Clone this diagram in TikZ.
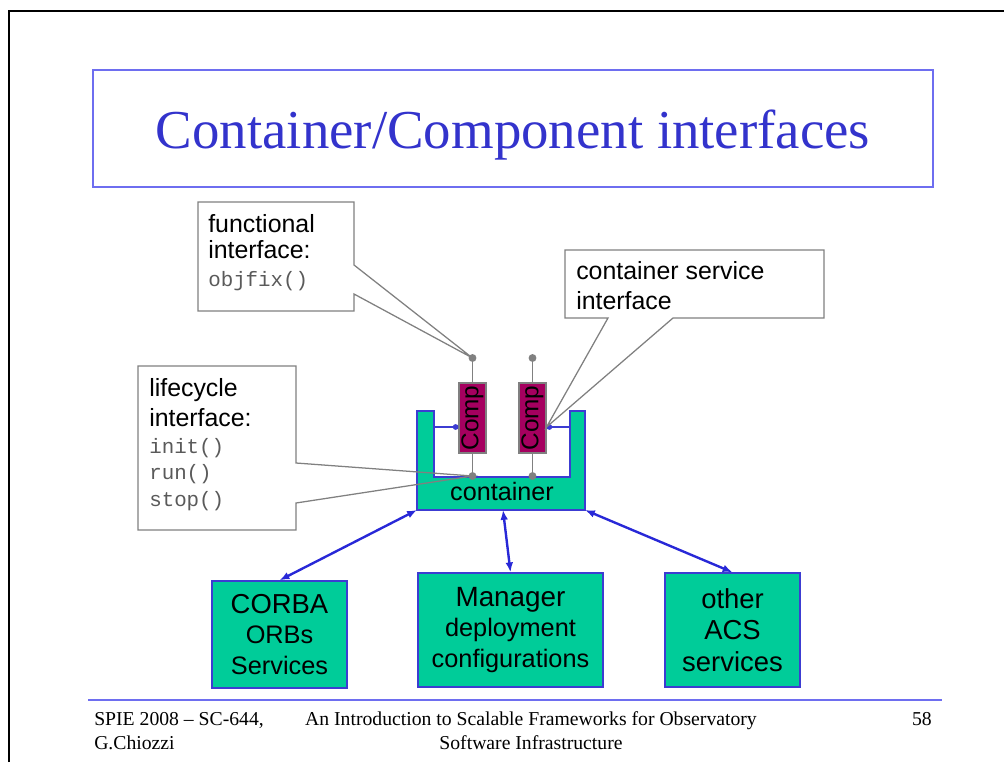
\documentclass[tikz,border=0pt]{standalone}
\usepackage{fontspec}
\setmainfont{Liberation Serif}
\setsansfont{Liberation Sans}
\setmonofont{Liberation Mono}
\usepackage{graphicx}
\usepackage{tikz}
\usetikzlibrary{arrows.meta,calc}
\definecolor{titleblue}{RGB}{51,51,204}
\definecolor{frameblue}{RGB}{110,110,240}
\definecolor{contgreen}{RGB}{0,204,153}
\definecolor{edgeblue}{RGB}{60,60,210}
\definecolor{linkblue}{RGB}{40,40,215}
\definecolor{compred}{RGB}{165,0,95}
\definecolor{callgray}{RGB}{128,128,128}
\definecolor{codegray}{RGB}{90,90,90}
\tikzstyle{callout}=[draw=callgray, line width=0.9pt]
\tikzstyle{calltext}=[anchor=base west, inner sep=0pt, font=\sffamily\fontsize{17.7}{21}\selectfont]
\tikzstyle{codetext}=[anchor=base west, inner sep=0pt, text=codegray, font=\ttfamily\fontsize{14.8}{18}\selectfont]
\tikzstyle{service}=[draw=edgeblue, line width=1pt, fill=contgreen, align=center, inner sep=0pt, font=\sffamily\fontsize{18}{22}\selectfont]
\tikzstyle{compbox}=[draw=callgray, line width=0.8pt, fill=compred, minimum width=0.675cm, minimum height=1.75cm, inner sep=0pt, font=\sffamily\fontsize{17.3}{20}\selectfont]
\tikzstyle{stem}=[draw=callgray, line width=1.4pt]
\tikzstyle{link}=[linkblue, line width=1.7pt, {Latex[length=7pt,width=5.5pt]}-{Latex[length=7pt,width=5.5pt]}]
\tikzstyle{sidelink}=[edgeblue, line width=1pt, -{Circle[length=4pt]}]
\tikzstyle{foot}=[inner sep=0pt, font=\fontsize{14}{16}\selectfont]
\newcommand{\compNstem}[2]{
	\draw[stem] (#2,358) -- (#2,476);
	\coordinate (#1-top) at (#2,358);
	\coordinate (#1-bot) at (#2,476);
	\fill[callgray] (#1-top) circle (2.8pt);
	\fill[callgray] (#1-bot) circle (2.8pt);
	\node[compbox] (#1) at (#2,418) {\rotatebox{90}{Comp}};
}
\begin{document}
\begin{tikzpicture}[x=0.025cm, y=-0.025cm]
	\useasboundingbox (0,0) rectangle (1004,762);
	% slide frame and title
	\draw[line width=2.1pt] (9,762) -- (9,11) -- (1004,11);
	\node[draw=frameblue, line width=1pt, minimum width=21cm, minimum height=2.925cm] (titlebox) at (513,128.5) {};
	\node[anchor=base, text=titleblue, font=\fontsize{39}{44}\selectfont] (title) at (513,148) {Container/Component interfaces};
	% container
	\filldraw[fill=contgreen, draw=edgeblue, line width=1pt] (417,411) -- (434,411) -- (434,477) -- (570,477) -- (570,411) -- (585,411) -- (585,510) -- (417,510) -- cycle;
	\coordinate (cont-sw) at (417,510);
	\coordinate (cont-s) at (503,510);
	\coordinate (cont-se) at (585,510);
	\coordinate (armL) at (434,427);
	\coordinate (armR) at (570,427);
	\node[anchor=base, inner sep=0pt, font=\sffamily\fontsize{17.9}{21}\selectfont] (contlabel) at (502,500) {container};
	% components
	\compNstem{compL}{472.5}
	\compNstem{compR}{532.5}
	\coordinate (linkL) at (armL -| compL.west);
	\coordinate (linkR) at (armR -| compR.east);
	\draw[sidelink] (armL) -- (linkL);
	\draw[sidelink] (armR) -- (linkR);
	% callouts
	\draw[callout] (198,202) -- (354,202) -- (354,265) -- (compL-top) -- (354,294) -- (354,311) -- (198,311) -- cycle;
	\draw[callout] (565,250) -- (824,250) -- (824,318) -- (673,318) -- (linkR) -- (608,318) -- (565,318) -- cycle;
	\draw[callout] (138,366) -- (296,366) -- (296,463) -- (compL-bot) -- (296,503) -- (296,530) -- (138,530) -- cycle;
	\node[calltext] (funcA) at (208,232) {functional};
	\node[calltext] (funcB) at (208,258) {interface:};
	\node[codetext] (funcC) at (208,286) {objfix()};
	\node[calltext] (servA) at (576,279) {container service};
	\node[calltext] (servB) at (576,309) {interface};
	\node[calltext] (lifeA) at (149,396) {lifecycle};
	\node[calltext] (lifeB) at (149,426) {interface:};
	\node[codetext] (lifeC) at (149,453) {init()};
	\node[codetext] (lifeD) at (149,479) {run()};
	\node[codetext] (lifeE) at (149,506) {stop()};
	% services below
	\node[service, minimum width=3.375cm, minimum height=2.675cm] (corba) at (279.5,634.5) {{\fontsize{19.5}{22}\selectfont CORBA}\\ORBs\\Services};
	\node[service, minimum width=4.625cm, minimum height=2.85cm] (manager) at (510.5,630) {{\fontsize{19.8}{22}\selectfont Manager}\\deployment\\configurations};
	\node[service, minimum width=3.375cm, minimum height=2.85cm, font=\sffamily\fontsize{19.5}{22.5}\selectfont] (others) at (732.5,630) {other\\ACS\\services};
	\draw[link] (cont-sw) -- (corba.north);
	\draw[link] (cont-s) -- (manager.north);
	\draw[link] (cont-se) -- (others.north);
	% footer
	\draw[frameblue, line width=1.4pt] (88,700) -- (942,700);
	\node[foot, anchor=base west] (footA) at (94,725) {SPIE 2008 \textendash{} SC-644,};
	\node[foot, anchor=base west] (footB) at (94,749) {G.Chiozzi};
	\node[foot, anchor=base] (footC) at (531,725) {An Introduction to Scalable Frameworks for Observatory};
	\node[foot, anchor=base] (footD) at (531,749) {Software Infrastructure};
	\node[foot, anchor=base east] (footE) at (932,725) {58};
\end{tikzpicture}
\end{document}
